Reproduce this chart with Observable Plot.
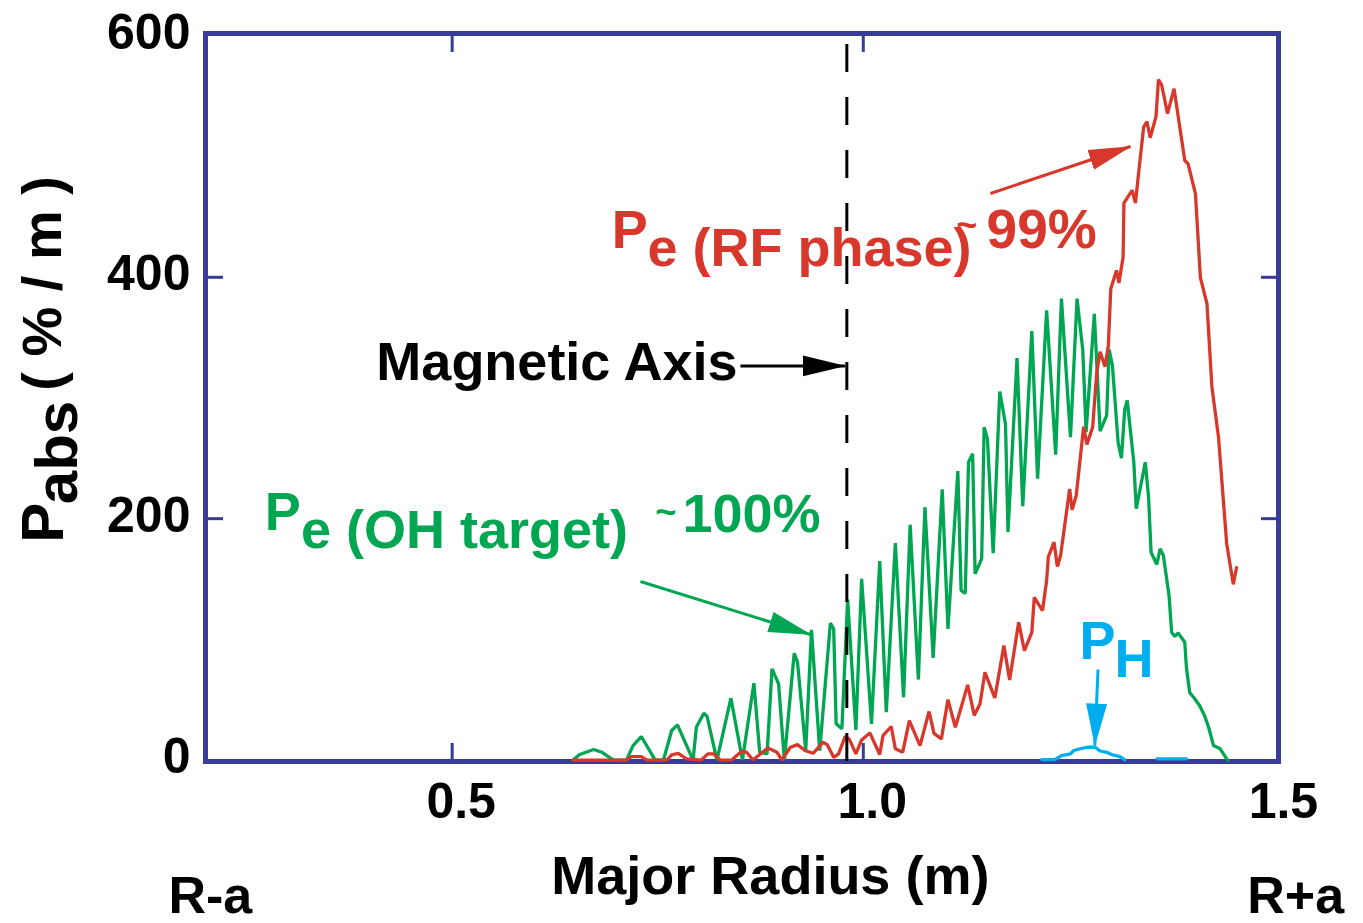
<!DOCTYPE html>
<html>
<head>
<meta charset="utf-8">
<script src="https://cdn.jsdelivr.net/npm/d3@7"></script>
<script src="https://cdn.jsdelivr.net/npm/@observablehq/plot@0.6"></script>
<style>
  html, body { margin: 0; padding: 0; background: #fff; }
</style>
</head>
<body>
<div id="chart"></div>
<script>
// ---------------- data ----------------
// Major radius (m) and absorbed power density (% / m)
const ohX = [0.647,0.655,0.672,0.682,0.696,0.712,0.720,0.730,0.747,0.757,
  0.767,0.774,0.793,0.797,0.806,0.810,0.822,0.839,0.853,0.867,
  0.874,0.883,0.889,0.897,0.904,0.916,0.920,0.930,0.937,0.947,
  0.960,0.964,0.967,0.974,0.981,0.991,0.998,1.010,1.020,1.028,
  1.039,1.049,1.057,1.067,1.075,1.085,1.096,1.103,1.115,1.119,
  1.124,1.128,1.133,1.136,1.144,1.147,1.151,1.158,1.166,1.173,
  1.176,1.187,1.194,1.205,1.212,1.223,1.234,1.241,1.252,1.260,
  1.267,1.271,1.281,1.288,1.296,1.299,1.303,1.310,1.314,1.318,
  1.321,1.329,1.332,1.343,1.347,1.350,1.357,1.361,1.365,1.372,
  1.375,1.379,1.383,1.391,1.393,1.397,1.402,1.409,1.415,1.420,
  1.426,1.434,1.438,1.443];
const ohY = [0,4.6,8.7,6.5,0,0,12.0,19.5,0,0,
  24.5,29.2,0,27.2,38.8,36.3,0,51.2,0,63.7,
  6.5,5.1,75.6,63.2,0,88.5,81.1,7.9,107.9,7.9,
  113.4,108.7,30,25.9,133,25,150.2,30,164.8,39.6,
  179.7,52,195,66.7,209.5,84.7,224.4,108.7,239.4,140.5,
  138,246.8,253.8,154.3,166.8,275.8,266.2,171.4,305.4,278.1,
  188.8,333,210.4,355.4,233.1,372.6,253,382.3,267.6,382.3,
  339.4,271.7,369.8,272.5,285.5,340.2,327,262.6,250.1,290.5,
  298,246.8,208.2,246.6,217.6,172.2,162,175,169.5,135.5,
  105.9,102.4,105.3,97.6,76.7,55.9,51.8,45.2,36.9,27.2,
  12,9.3,5.1,0];

const rfX = [0.647,0.682,0.712,0.718,0.730,0.737,0.761,0.767,0.775,0.785,
  0.803,0.811,0.818,0.826,0.840,0.852,0.858,0.866,0.874,0.884,
  0.895,0.901,0.911,0.920,0.929,0.939,0.951,0.956,0.964,0.970,
  0.978,0.983,0.991,0.998,1.008,1.020,1.024,1.034,1.039,1.048,
  1.056,1.069,1.080,1.086,1.095,1.103,1.112,1.127,1.135,1.142,
  1.148,1.160,1.171,1.178,1.189,1.196,1.205,1.208,1.218,1.223,
  1.225,1.232,1.236,1.240,1.251,1.254,1.259,1.268,1.272,1.279,
  1.284,1.288,1.294,1.298,1.301,1.308,1.311,1.316,1.317,1.327,
  1.331,1.335,1.341,1.345,1.349,1.356,1.359,1.363,1.370,1.378,
  1.391,1.395,1.404,1.410,1.418,1.424,1.432,1.442,1.450,1.454];
const rfY = [0,0,0,2.9,2.9,0,0,4.3,5.6,1,
  0,5.1,5.1,0,0,7.2,6.5,0,4.6,10,
  6.5,0,10.4,12.8,7.9,5.6,14.7,12.8,2.3,5.1,
  19.6,17.4,5.1,16.7,22.5,4.6,20.3,27.8,9.3,6.5,
  32.7,12,40.2,22.1,17.5,50.1,27.2,62.3,36.9,46.6,
  72.7,51.5,94.8,66.3,114.1,90.6,105.7,134.7,123.9,148.7,
  168.1,180.5,160.4,169.5,224.7,207.3,219.2,276.3,261.4,276,
  321.4,338.4,325.9,342.8,390.4,405.7,395.3,416.8,461.5,472.1,
  461.5,487.1,524.4,529.1,515.6,533.1,563.8,559.1,535.6,556.3,
  496.8,494.1,469.2,399.7,378.2,309.2,267.7,179.3,145.6,159.5];

const phX = [1.217,1.233,1.241,1.252,1.256,1.262,1.272,1.282,1.288,1.296,1.302,1.312,1.318,1.330,1.357,1.393];
const phY = [0.4,0.4,3.7,5.1,7.9,9.0,10.6,10.6,7.5,6.4,4.6,2.9,0.2,NaN,1,1];

const magneticAxis = [0.98];
const xTickValues = [0.5, 1.0, 1.5];
const xTickMarks = [0.5, 1.0];
const yTickValues = [0, 200, 400, 600];
const yTickMarks = [200, 400];
const xDomain = [0.2, 1.505];
const yDomain = [-1.2, 602];

// ---------------- styling ----------------
const FONT = "'Liberation Sans', Arial, Helvetica, sans-serif";
const RED = "#d7382b", GREEN = "#00a651", CYAN = "#00aeef", FRAME = "#383b97";

const toRows = (xs, ys) => xs.map((x, i) => ({x, y: ys[i]}));
const ohData = toRows(ohX, ohY);
const rfData = toRows(rfX, rfY);
const phData = toRows(phX, phY);

// annotation placement (data coordinates)
const notes = [
  {text: "P", x: 0.003, y: 180, fill: "black", size: 60, rotate: -90, anchor: "start"},
  {text: "abs", x: 0.020, y: 212, fill: "black", size: 60, rotate: -90, anchor: "start"},
  {text: "( % / m )", x: 0.003, y: 306, fill: "black", size: 56, rotate: -90, anchor: "start"},
  {text: "Major Radius (m)", x: 0.887, y: -97, fill: "black", size: 54, rotate: 0, anchor: "middle"},
  {text: "R-a", x: 0.155, y: -113, fill: "black", size: 52, rotate: 0, anchor: "start"},
  {text: "R+a", x: 1.467, y: -113, fill: "black", size: 52, rotate: 0, anchor: "start"},
  {text: "Magnetic Axis", x: 0.847, y: 329, fill: "black", size: 54, rotate: 0, anchor: "end"},
  {text: "P", x: 0.694, y: 439, fill: RED, size: 54, rotate: 0, anchor: "start"},
  {text: "e (RF phase)", x: 0.7376, y: 424, fill: RED, size: 54, rotate: 0, anchor: "start"},
  {text: "~", x: 1.113, y: 443, fill: RED, size: 36, rotate: 0, anchor: "start"},
  {text: "99%", x: 1.150, y: 439, fill: RED, size: 55, rotate: 0, anchor: "start"},
  {text: "P", x: 0.272, y: 205, fill: GREEN, size: 54, rotate: 0, anchor: "start"},
  {text: "e (OH target)", x: 0.3162, y: 190, fill: GREEN, size: 54, rotate: 0, anchor: "start"},
  {text: "~", x: 0.747, y: 205, fill: GREEN, size: 36, rotate: 0, anchor: "start"},
  {text: "100%", x: 0.780, y: 203, fill: GREEN, size: 54, rotate: 0, anchor: "start"},
  {text: "P", x: 1.263, y: 98, fill: CYAN, size: 54, rotate: 0, anchor: "start"},
  {text: "H", x: 1.3055, y: 83, fill: CYAN, size: 54, rotate: 0, anchor: "start"}
];

const arrows = [
  {x1: 0.8506, y1: 326.6, x2: 0.9777, y2: 326.6, color: "black"},
  {x1: 1.1547, y1: 469.4, x2: 1.3250, y2: 508.4, color: RED},
  {x1: 0.7290, y1: 147.9, x2: 0.9358, y2: 104.0, color: GREEN},
  {x1: 1.2855, y1: 75.0, x2: 1.2816, y2: 12.0, color: CYAN}
];

function filledArrow(color) {
  const ns = "http://www.w3.org/2000/svg";
  const m = document.createElementNS(ns, "marker");
  m.setAttribute("viewBox", "-42 -12 44 24");
  m.setAttribute("markerWidth", 44);
  m.setAttribute("markerHeight", 24);
  m.setAttribute("markerUnits", "userSpaceOnUse");
  m.setAttribute("refX", 0);
  m.setAttribute("refY", 0);
  m.setAttribute("orient", "auto");
  const p = document.createElementNS(ns, "path");
  p.setAttribute("d", "M-42,-10.5L1,0L-42,10.5Z");
  p.setAttribute("fill", color);
  p.setAttribute("stroke", "none");
  m.appendChild(p);
  return m;
}

function textMarks(anchor) {
  return Plot.text(notes.filter(d => d.anchor === anchor), {
    x: "x", y: "y", text: "text", fill: "fill",
    fontSize: d => d.size, rotate: d => d.rotate,
    textAnchor: anchor, fontWeight: "bold"
  });
}

function build(marker) {
  const tickStyle = {tickSize: -18, stroke: FRAME, strokeWidth: 3, tickFormat: () => "", label: null};
  return Plot.plot({
    width: 1363,
    height: 923,
    marginLeft: 205,
    marginRight: 85,
    marginTop: 33,
    marginBottom: 162,
    x: {domain: xDomain},
    y: {domain: yDomain},
    color: {type: "identity"},
    style: {fontFamily: FONT, fontWeight: "bold", background: "#fff", overflow: "visible"},
    marks: [
      Plot.frame({stroke: FRAME, strokeWidth: 5}),
      Plot.axisX(xTickMarks, {anchor: "bottom", ...tickStyle}),
      Plot.axisX(xTickMarks, {anchor: "top", ...tickStyle}),
      Plot.axisY(yTickMarks, {anchor: "left", ...tickStyle}),
      Plot.axisY(yTickMarks, {anchor: "right", ...tickStyle}),
      Plot.axisX(xTickValues, {anchor: "bottom", tickSize: 0, tickPadding: 21, dx: 9,
        tickFormat: d => d.toFixed(1), fontSize: 50, fontWeight: "bold", fill: "black", label: null}),
      Plot.axisY(yTickValues, {anchor: "left", tickSize: 0, tickPadding: 15, dy: -3,
        tickFormat: d => String(d), fontSize: 50, fontWeight: "bold", fill: "black", label: null}),
      Plot.line(ohData, {x: "x", y: "y", stroke: GREEN, strokeWidth: 3.3, strokeLinejoin: "miter"}),
      Plot.line(rfData, {x: "x", y: "y", stroke: RED, strokeWidth: 3.3, strokeLinejoin: "miter"}),
      Plot.line(phData, {x: "x", y: "y", stroke: CYAN, strokeWidth: 3.3}),
      Plot.ruleX(magneticAxis, {y1: () => yDomain[0], y2: () => yDomain[1], stroke: "black",
        strokeWidth: 3, strokeDasharray: "28,25"}),
      Plot.link(arrows, {x1: "x1", y1: "y1", x2: "x2", y2: "y2", stroke: "color",
        strokeWidth: 3, markerEnd: marker}),
      textMarks("start"),
      textMarks("middle"),
      textMarks("end")
    ]
  });
}

let chart;
try { chart = build(filledArrow); } catch (e) { console.error(e); chart = build("arrow"); }
document.getElementById("chart").append(chart);
</script>
</body>
</html>
